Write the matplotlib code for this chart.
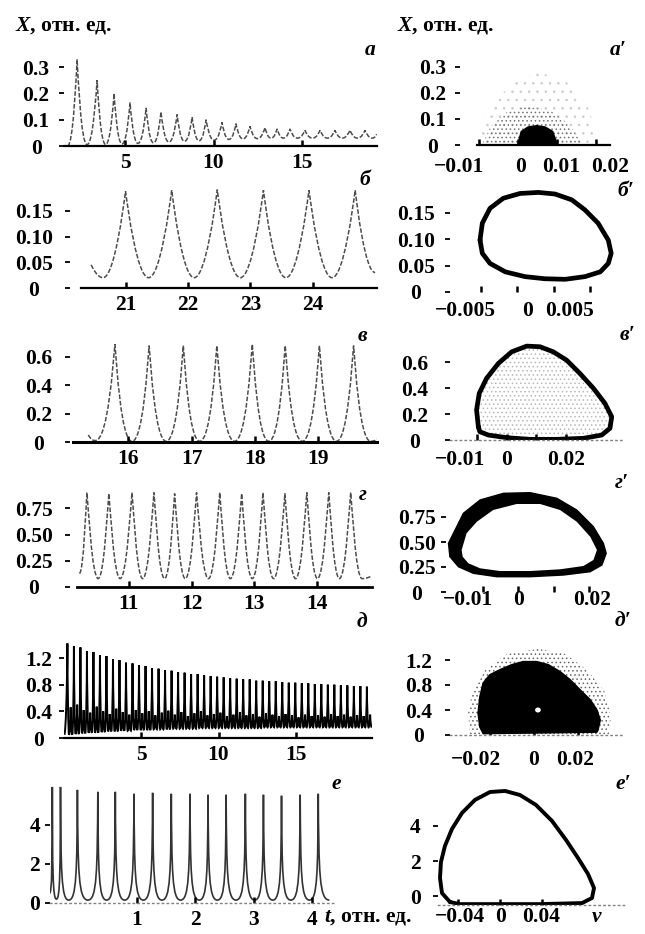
import matplotlib
matplotlib.use("Agg")
import matplotlib.pyplot as plt
from matplotlib.path import Path
from matplotlib.patches import PathPatch, Polygon, Ellipse

plt.rcParams['font.family'] = ['Liberation Serif', 'DejaVu Serif']
plt.rcParams['font.size'] = 15.5
plt.rcParams['font.weight'] = 'bold'
plt.rcParams['mathtext.fontset'] = 'custom'
plt.rcParams['mathtext.it'] = 'Liberation Serif:italic:bold'
plt.rcParams['mathtext.rm'] = 'Liberation Serif:bold'
plt.rcParams['hatch.linewidth'] = 0.6

# ---- X(t): knots, troughs and peaks alternating ----
a_t = [1.75, 2.29, 2.85, 3.42, 3.90, 4.38, 4.83, 5.28, 5.73, 6.19, 6.61, 7.03, 7.48, 7.94,
       8.36, 8.79, 9.18, 9.58, 10.03, 10.48, 10.87, 11.27, 11.66, 12.06, 12.48, 12.91, 13.25,
       13.59, 13.95, 14.32, 14.74, 15.17, 15.59, 16.02, 16.44, 16.86, 17.28, 17.71, 18.13,
       18.56, 18.98, 19.22]
a_x = [0.0, 0.33, 0.005, 0.25, 0.006, 0.20, 0.008, 0.165, 0.01, 0.145, 0.012, 0.13, 0.015,
       0.12, 0.018, 0.11, 0.02, 0.10, 0.022, 0.09, 0.025, 0.085, 0.027, 0.075, 0.028, 0.07,
       0.03, 0.065, 0.03, 0.065, 0.03, 0.06, 0.03, 0.06, 0.03, 0.06, 0.03, 0.06, 0.03, 0.06,
       0.03, 0.045]

b_t = [20.45, 20.64, 21.00, 21.37, 21.74, 22.10, 22.47, 22.84, 23.21, 23.57, 23.94, 24.31,
       24.68, 25.00]
b_x = [0.045, 0.02, 0.188, 0.02, 0.19, 0.02, 0.191, 0.02, 0.19, 0.02, 0.19, 0.02, 0.19, 0.03]

c_t = [15.37, 15.48, 15.79, 16.06, 16.33, 16.60, 16.87, 17.13, 17.40, 17.68, 17.96, 18.22,
       18.48, 18.75, 19.02, 19.29, 19.56, 19.83, 19.93]
c_x = [0.05, 0.01, 0.69, 0.005, 0.68, 0.005, 0.68, 0.005, 0.68, 0.005, 0.69, 0.005, 0.68,
       0.005, 0.68, 0.005, 0.68, 0.005, 0.02]

g_t = [10.21, 10.33, 10.51, 10.68, 10.86, 11.05, 11.22, 11.40, 11.57, 11.73, 11.90, 12.08,
       12.27, 12.45, 12.62, 12.80, 12.97, 13.14, 13.31, 13.49, 13.66, 13.84, 14.01, 14.19,
       14.36, 14.54, 14.72, 14.86]
g_x = [0.13, 0.90, 0.08, 0.89, 0.08, 0.90, 0.08, 0.90, 0.08, 0.89, 0.08, 0.90, 0.08, 0.90,
       0.08, 0.89, 0.08, 0.90, 0.08, 0.89, 0.08, 0.90, 0.08, 0.90, 0.08, 0.90, 0.08, 0.10]

# д: dense oscillation, main peaks + secondary bumps + floor
d_peak_t = [0.25, 0.67, 1.09, 1.51, 1.93, 2.35, 2.77, 3.19, 3.61, 4.03, 4.45, 4.87, 5.29,
            5.71, 6.13, 6.55, 6.97, 7.39, 7.81, 8.23, 8.65, 9.07, 9.49, 9.91, 10.33, 10.75,
            11.17, 11.59, 12.01, 12.43, 12.85, 13.27, 13.69, 14.11, 14.53, 14.95, 15.37,
            15.79, 16.21, 16.63, 17.05, 17.47, 17.89, 18.31, 18.73, 19.15, 19.57]
d_peak_x = [1.42, 1.38, 1.36, 1.30, 1.29, 1.24, 1.23, 1.18, 1.17, 1.13, 1.12, 1.09, 1.08,
            1.05, 1.04, 1.02, 1.01, 0.99, 0.98, 0.96, 0.96, 0.94, 0.93, 0.92, 0.91, 0.90,
            0.89, 0.88, 0.88, 0.86, 0.86, 0.85, 0.85, 0.84, 0.83, 0.83, 0.82, 0.82, 0.81,
            0.81, 0.80, 0.80, 0.79, 0.79, 0.78, 0.78, 0.77]
d_sub_x = [0.46, 0.50, 0.42, 0.38, 0.47, 0.40, 0.36, 0.44, 0.39, 0.35, 0.42, 0.37, 0.40,
           0.34, 0.38, 0.41, 0.35, 0.39, 0.33, 0.37, 0.40, 0.34, 0.36, 0.38, 0.33, 0.35,
           0.39, 0.34, 0.36, 0.32, 0.37, 0.35, 0.33, 0.36, 0.34, 0.31, 0.35, 0.33, 0.34,
           0.32, 0.36, 0.33, 0.35, 0.32, 0.34, 0.33, 0.35]
d_low_x = [0.05, 0.06, 0.07, 0.08, 0.08, 0.09, 0.10, 0.10, 0.11, 0.11, 0.12, 0.12, 0.12,
           0.13, 0.13, 0.13, 0.14, 0.14, 0.14, 0.14, 0.15, 0.15, 0.15, 0.15, 0.15, 0.15,
           0.15, 0.15, 0.15, 0.15, 0.16, 0.16, 0.16, 0.16, 0.16, 0.16, 0.16, 0.16, 0.16,
           0.16, 0.16, 0.16, 0.16, 0.16, 0.16, 0.16, 0.16]

e_t = [-0.50, -0.45, -0.38, -0.31, -0.17, -0.02, 0.16, 0.33, 0.48, 0.63, 0.79, 0.95, 1.11,
       1.27, 1.43, 1.59, 1.75, 1.91, 2.07, 2.22, 2.38, 2.53, 2.70, 2.86, 3.02, 3.17, 3.33,
       3.48, 3.64, 3.80, 3.96, 4.11, 4.30]
e_x = [0.5, 5.95, 0.2, 5.95, 0.15, 5.8, 0.15, 5.7, 0.15, 5.7, 0.15, 5.6, 0.15, 5.65, 0.15,
       5.6, 0.15, 5.6, 0.15, 5.55, 0.15, 5.55, 0.15, 5.6, 0.15, 5.55, 0.15, 5.5, 0.15, 5.55,
       0.15, 5.6, 0.15]

# ---- phase portraits X(v) ----
a2_blob_v = [0.0, 0.0001, 0.0009, 0.0026, 0.0048, 0.0069, 0.0088, 0.0098, 0.0100]
a2_blob_x = [0.0, 0.0065, 0.051, 0.068, 0.073, 0.068, 0.051, 0.0065, 0.0]
a2_halo_v = [-0.0092, -0.007, -0.003, 0.002, 0.008, 0.013, 0.0166]
a2_halo_x = [0.0, 0.07, 0.125, 0.147, 0.135, 0.08, 0.0]
a2_sparse_v = [-0.011, -0.008, -0.002, 0.005, 0.012, 0.018, 0.021]
a2_sparse_x = [0.0, 0.13, 0.23, 0.28, 0.25, 0.14, 0.0]

b2_v = [-0.00507, -0.00475, -0.0037, -0.00188, 0.00041, 0.00292, 0.0052, 0.0075, 0.0093,
        0.0111, 0.0125, 0.0129, 0.0125, 0.0114, 0.0093, 0.0066, 0.0038, 0.0011, -0.0016,
        -0.0037, -0.00475]
b2_x = [0.098, 0.130, 0.158, 0.177, 0.186, 0.188, 0.185, 0.174, 0.155, 0.130, 0.098, 0.073,
        0.054, 0.038, 0.029, 0.024, 0.025, 0.029, 0.038, 0.054, 0.073]

c2_v = [-0.0097, -0.0103, -0.0094, -0.0069, -0.0029, 0.0016, 0.0067, 0.0112, 0.0157, 0.0202,
        0.0247, 0.0293, 0.0332, 0.0355, 0.0349, 0.0321, 0.0259, 0.0168, 0.0078, -0.0001,
        -0.0063, -0.0092]
c2_x = [0.102, 0.231, 0.359, 0.475, 0.59, 0.679, 0.723, 0.718, 0.679, 0.615, 0.513, 0.398,
        0.282, 0.179, 0.09, 0.038, 0.013, 0.005, 0.005, 0.018, 0.038, 0.064]

g2_out_v = [-0.0196, -0.0154, -0.0107, -0.0041, 0.0034, 0.0109, 0.0165, 0.0212, 0.024, 0.0248,
            0.0236, 0.0203, 0.0128, 0.0034, -0.006, -0.0126, -0.0168, -0.0192]
g2_out_x = [0.487, 0.787, 0.92, 0.987, 0.993, 0.937, 0.82, 0.653, 0.487, 0.387, 0.27, 0.203,
            0.17, 0.153, 0.153, 0.187, 0.253, 0.353]
g2_in_v = [-0.0159, -0.0145, -0.0116, -0.007, -0.0004, 0.0062, 0.0118, 0.0165, 0.0203, 0.0222,
           0.0212, 0.0184, 0.0118, 0.0034, -0.0051, -0.0107, -0.014, -0.0156]
g2_in_x = [0.42, 0.587, 0.703, 0.82, 0.88, 0.88, 0.82, 0.703, 0.553, 0.42, 0.32, 0.26, 0.227,
           0.21, 0.21, 0.237, 0.287, 0.353]

d2_v = [-0.023, -0.0245, -0.0253, -0.0245, -0.023, -0.020, -0.0155, -0.0101, -0.0049, 0.0012,
        0.0065, 0.0118, 0.0164, 0.0209, 0.0255, 0.0285, 0.030, 0.029, 0.0285]
d2_x = [0.027, 0.13, 0.35, 0.61, 0.83, 0.96, 1.04, 1.12, 1.17, 1.17, 1.12, 1.01, 0.88, 0.72,
        0.56, 0.40, 0.24, 0.08, 0.05]
d2_halo_v = [-0.029, -0.030, -0.028, -0.022, -0.012, 0.002, 0.014, 0.024, 0.032, 0.035, 0.034]
d2_halo_x = [0.0, 0.35, 0.7, 1.05, 1.3, 1.38, 1.3, 1.05, 0.7, 0.3, 0.0]
d2_hole = (0.0018, 0.40)

e2_v = [-0.0476, -0.0552, -0.0571, -0.0562, -0.0524, -0.0457, -0.0362, -0.0238, -0.0095,
        0.0048, 0.019, 0.0343, 0.0495, 0.0629, 0.0743, 0.0838, 0.0895, 0.0876, 0.0781,
        0.0381, -0.0095, -0.0381]
e2_x = [-0.34, 0.17, 1.03, 1.94, 2.86, 3.83, 4.74, 5.49, 5.94, 6.0, 5.77, 5.2, 4.29, 3.2,
        2.17, 1.26, 0.46, -0.11, -0.4, -0.46, -0.46, -0.46]

M = '\u2212'
# x labels of the phase panels, as set in the scan (centre px, text)
a2_labels = [(459, M + '0.01'), (521, '0'), (561, '0.01'), (610, '0.02')]
b2_labels = [(465, M + '0.005'), (528, '0'), (570, '0.005')]
c2_labels = [(460, M + '0.01'), (507, '0'), (566, '0.02')]
g2_labels = [(468, M + '0.01'), (519, '0'), (592, '0.02')]
d2_labels = [(476, M + '0.02'), (534, '0'), (575, '0.02')]
e2_labels = [(460, M + '0.04'), (501, '0'), (541, '0.04'), (597, 'v')]

W, H = 645, 934
fig = plt.figure(figsize=(W / 100, H / 100), dpi=100)


def box(l, r, t, b):
    return [l / W, 1 - b / H, (r - l) / W, (b - t) / H]


def ftext(x, y, s, **kw):
    fig.text(x / W, 1 - y / H, s, va='center', **kw)


def new_ax(pos, xlim, ylim, xt, xl, yt, yl, ypad, base='solid', blw=1.6, bounds=None):
    ax = fig.add_axes(box(*pos))
    ax.set_xlim(xlim)
    ax.set_ylim(ylim)
    ax.patch.set_visible(False)
    for s in ('top', 'right', 'left'):
        ax.spines[s].set_visible(False)
    sp = ax.spines['bottom']
    if base == 'solid':
        sp.set_linewidth(blw)
        sp.set_color('black')
    elif base == 'dot':
        sp.set_linewidth(1.0)
        sp.set_color('0.5')
        sp.set_linestyle((0, (1, 2.5)))
    else:
        sp.set_visible(False)
    if bounds:
        sp.set_bounds(*bounds)
    if xl is None:
        xl = [''] * len(xt)
    ax.set_xticks(xt, xl)
    # y labels of the scan are centred in their column
    ax.set_yticks(yt, yl, ha='center')
    ax.tick_params(axis='x', direction='in', length=4, width=1.8, pad=5)
    ax.tick_params(axis='y', direction='out', length=3.5, width=1.3, pad=ypad)
    return ax


def knot_line(ax, t, x, hp, ht, tip=1.0, color='0.3', lw=1.1, ls=(0, (3, 1.2))):
    # smooth curve through the knots; flat troughs, peaks rounded (tip=1) or pointed
    n = len(t)

    def peak(i):
        nb = [x[j] for j in (i - 1, i + 1) if 0 <= j < n]
        return x[i] > max(nb)

    def cp(i, j):
        dt = t[j] - t[i]
        if peak(i):
            return (t[i] + hp * dt, x[i] - (1 - tip) * (x[i] - x[j]))
        return (t[i] + ht * dt, x[i])

    verts = [(t[0], x[0])]
    codes = [Path.MOVETO]
    for i in range(n - 1):
        verts += [cp(i, i + 1), cp(i + 1, i), (t[i + 1], x[i + 1])]
        codes += [Path.CURVE4] * 3
    ax.add_patch(PathPatch(Path(verts, codes), fill=False, edgecolor=color, lw=lw,
                           linestyle=ls))


def loop(ax, v, x, lw):
    ax.plot(list(v) + [v[0]], list(x) + [x[0]], color='black', lw=lw,
            solid_joinstyle='round', solid_capstyle='round')


# ---------------- left column ----------------
ax = new_ax((64, 377, 55, 146), (1.55, 19.24), (0, 0.346), [5, 10, 15], ['5', '10', '15'],
            [0, 0.1, 0.2, 0.3], ['0', '0.1', '0.2', '0.3'], 16.6)
knot_line(ax, a_t, a_x, 0.1, 0.6, tip=0.8)

ax = new_ax((70, 377, 185, 288), (20.11, 25.03), (0, 0.2), [21, 22, 23, 24],
            ['21', '22', '23', '24'], [0, 0.05, 0.10, 0.15], ['0', '0.05', '0.10', '0.15'],
            22.4, bounds=(20.28, 25.03))
knot_line(ax, b_t, b_x, 0.1, 0.5, tip=0.8)

ax = new_ax((70, 377, 340, 442), (15.08, 19.93), (0, 0.72), [16, 17, 18, 19],
            ['16', '17', '18', '19'], [0, 0.2, 0.4, 0.6], ['0', '0.2', '0.4', '0.6'],
            18.8, blw=2.2, bounds=(15.13, 19.93))
knot_line(ax, c_t, c_x, 0.1, 0.65, tip=0.8)

ax = new_ax((70, 372, 488, 587), (10.06, 14.88), (0, 0.943), [11, 12, 13, 14],
            ['11', '12', '13', '14'], [0, 0.25, 0.5, 0.75], ['0', '0.25', '0.50', '0.75'],
            22.4, blw=2.0, bounds=(10.17, 14.88))
knot_line(ax, g_t, g_x, 0.12, 0.55, tip=0.85)

ax = new_ax((64, 372, 640, 738), (0.03, 19.9), (0, 1.47), [5, 10, 15], ['5', '10', '15'],
            [0, 0.4, 0.8, 1.2], ['0', '0.4', '0.8', '1.2'], 14.5)
dk_t, dk_x = [0.05], [d_low_x[0]]
for i, t0 in enumerate(d_peak_t):
    step = (d_peak_t[i + 1] if i + 1 < len(d_peak_t) else 2 * t0 - d_peak_t[i - 1]) - t0
    dk_t += [t0, t0 + 0.25 * step, t0 + 0.5 * step, t0 + 0.75 * step]
    dk_x += [d_peak_x[i], d_low_x[i], d_sub_x[i], d_low_x[i]]
knot_line(ax, dk_t, dk_x, 0.1, 0.45, tip=0.5, color='black', lw=1.4, ls='-')

ax = new_ax((50, 334, 785, 903), (-0.49, 4.38), (0, 6.05), [1, 2, 3, 4], ['1', '2', '3', '4'],
            [0, 2, 4], ['0', '2', '4'], 7.5, base='dot')
knot_line(ax, e_t, e_x, 0.05, 0.9, tip=0.25, color='0.2', lw=1.2, ls='-')

# ---------------- right column ----------------
ax = new_ax((460, 625, 55, 145), (-0.0148, 0.0273), (0, 0.346), [-0.01, 0, 0.01, 0.02], None,
            [0, 0.1, 0.2, 0.3], ['0', '0.1', '0.2', '0.3'], 15.9, bounds=(-0.0105, 0.0235))
ax.add_patch(Polygon(list(zip(a2_sparse_v, a2_sparse_x)), closed=True, fill=False,
                     hatch='..', edgecolor='0.8', lw=0))
ax.add_patch(Polygon(list(zip(a2_halo_v, a2_halo_x)), closed=True, fill=False,
                     hatch='....', edgecolor='0.45', lw=0))
ax.add_patch(Polygon(list(zip(a2_blob_v, a2_blob_x)), closed=True, facecolor='black',
                     edgecolor='black', lw=1.5))
for x, s in a2_labels:
    ftext(x, 167, s, ha='center')

ax = new_ax((450, 625, 185, 292), (-0.00918, 0.01479), (0, 0.202), [-0.005, 0, 0.005, 0.01],
            None, [0, 0.05, 0.10, 0.15], ['0', '0.05', '0.10', '0.15'], 21.0, base=None)
loop(ax, b2_v, b2_x, 3.4)
for x, s in b2_labels:
    ftext(x, 311, s, ha='center')

ax = new_ax((450, 625, 340, 440), (-0.0193, 0.040), (0, 0.77), [-0.01, 0, 0.01, 0.02], None,
            [0, 0.2, 0.4, 0.6], ['0', '0.2', '0.4', '0.6'], 21.7, base='dot')
ax.add_patch(Polygon(list(zip(c2_v, c2_x)), closed=True, fill=False, hatch='....',
                     edgecolor='0.72', lw=0))
loop(ax, c2_v, c2_x, 3.4)
for x, s in c2_labels:
    ftext(x, 460, s, ha='center')

ax = new_ax((446, 625, 488, 592), (-0.0203, 0.0301), (0, 1.04), [-0.01, 0, 0.01, 0.02], None,
            [0, 0.25, 0.5, 0.75], ['0', '0.25', '0.50', '0.75'], 17.4, base=None)
ax.add_patch(Polygon(list(zip(g2_out_v, g2_out_x)), closed=True, facecolor='black',
                     edgecolor='black', lw=1))
ax.add_patch(Polygon(list(zip(g2_in_v, g2_in_x)), closed=True, facecolor='white',
                     edgecolor='white', lw=0))
for x, s in g2_labels:
    ftext(x, 600, s, ha='center')

ax = new_ax((450, 625, 640, 735), (-0.0382, 0.0414), (0, 1.52), [-0.02, 0, 0.02], None,
            [0, 0.4, 0.8, 1.2], ['0', '0.4', '0.8', '1.2'], 18.8, base='dot')
ax.add_patch(Polygon(list(zip(d2_halo_v, d2_halo_x)), closed=True, fill=False,
                     hatch='....', edgecolor='0.4', lw=0))
ax.add_patch(Polygon(list(zip(d2_v, d2_x)), closed=True, facecolor='black',
                     edgecolor='black', lw=1.5))
ax.add_patch(Ellipse(d2_hole, 0.0026, 0.08, facecolor='white', edgecolor='none'))
for x, s in d2_labels:
    ftext(x, 760, s, ha='center')

ax = new_ax((438, 625, 785, 905), (-0.059, 0.119), (-0.51, 6.34), [-0.04, 0, 0.04], None,
            [0, 2, 4], ['0', '2', '4'], 13.0, base='dot')
loop(ax, e2_v, e2_x, 2.8)
for x, s in e2_labels:
    ftext(x, 917, '$v$' if s == 'v' else s, ha='center')

# ---------------- texts ----------------
ftext(15, 25, '$X$, отн. ед.', ha='left')
ftext(397, 25, '$X$, отн. ед.', ha='left')
ftext(324, 917, '$t$, отн. ед.', ha='left')

letters = [(370, 50, 'а'), (618, 50, 'а\u2032'), (365, 180, 'б'), (626, 191, 'б\u2032'),
           (362, 336, 'в'), (627, 335, 'в\u2032'), (363, 495, 'г'), (622, 483, 'г\u2032'),
           (362, 622, 'д'), (623, 621, 'д\u2032'), (336, 784, 'е'), (623, 784, 'е\u2032')]
for x, y, s in letters:
    ftext(x, y, s, ha='center', style='italic')

fig.savefig('out.png', dpi=100)
